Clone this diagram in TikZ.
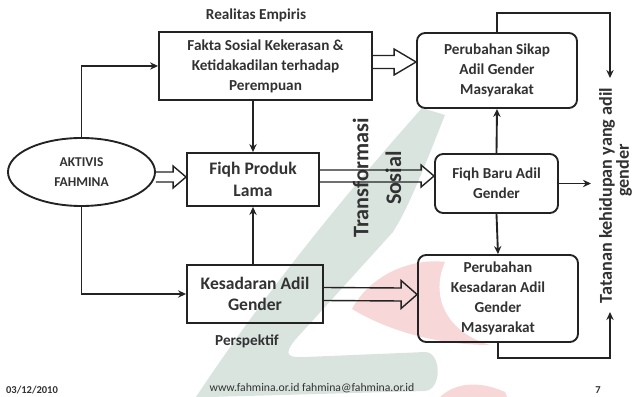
\documentclass[tikz,border=0pt]{standalone}
\usepackage{fontspec}
\setmainfont{Carlito}
\usetikzlibrary{positioning, arrows.meta, calc, shapes.geometric}
\usepackage{xcolor}

\definecolor{garis}{RGB}{35,35,35}
\definecolor{teks}{RGB}{50,50,50}
\definecolor{hijaumuda}{RGB}{217,228,223}
\definecolor{merahmuda}{RGB}{247,215,215}

\begin{document}
\begin{tikzpicture}[
    x=0.03cm, y=-0.03cm,
    line width=1.6pt, color=garis,
    kotak/.style={draw, rectangle, align=center, inner sep=0pt, text=teks, font=\bfseries\fontsize{13}{17}\selectfont},
    kotakbulat/.style={kotak, rounded corners=7pt},
    tulisan/.style={text=teks, font=\bfseries\fontsize{13}{17}\selectfont},
    panah/.style={-{Stealth[length=2.4mm, width=2.2mm]}},
    blok/.style n args={3}{line width=1.2pt, to path={
        ($(\tikztostart)+(0,-#3)$) -- ($(\tikztotarget)+(-#2,-#3)$) -- ($(\tikztotarget)+(-#2,-#1)$)
        -- (\tikztotarget) -- ($(\tikztotarget)+(-#2,#1)$) -- ($(\tikztotarget)+(-#2,#3)$) -- ($(\tikztostart)+(0,#3)$)}}
]
    \useasboundingbox (0,0) rectangle (634,397);

    % Latar
    \fill[hijaumuda] (422,108) -- (445,115) .. controls (425,165) and (410,205) .. (393,232)
        -- (295,340) .. controls (283,355) and (288,358) .. (305,357) -- (425,352)
        .. controls (442,352) and (442,390) .. (425,391) -- (210,397) -- (196,397)
        .. controls (260,300) and (340,200) .. cycle;
    \fill[merahmuda] (352,309) .. controls (372,272) and (415,258) .. (445,262)
        .. controls (432,290) and (440,330) .. (490,345) .. controls (440,345) and (390,332) .. cycle;
    \fill[merahmuda] (440,397) .. controls (455,383) and (478,380) .. (505,392) -- (507,397) -- cycle;

    % Kotak kiri
    \node[draw, ellipse, minimum width=4.41cm, minimum height=2.04cm, inner sep=0pt, align=center,
          text=teks, font=\bfseries\fontsize{11.5}{17}\selectfont] (aktivis) at (81.5,172) {AKTIVIS\\FAHMINA};
    \node[kotak, minimum width=6.39cm, minimum height=2.04cm] (fakta) at (265.5,66)
        {Fakta Sosial Kekerasan \&\\Ketidakadilan terhadap\\Perempuan};
    \node[kotak, minimum width=3.96cm, minimum height=1.59cm, font=\bfseries\fontsize{15}{19}\selectfont]
        (fiqhlama) at (253,179.5) {Fiqh Produk\\Lama};
    \node[kotak, minimum width=4.08cm, minimum height=1.74cm, font=\bfseries\fontsize{15}{18}\selectfont]
        (kesadaran) at (255,294) {Kesadaran Adil\\Gender};

    % Kotak kanan
    \node[kotakbulat, minimum width=4.8cm, minimum height=2.25cm] (sikap) at (497,70.5)
        {Perubahan Sikap\\Adil Gender\\Masyarakat};
    \node[kotakbulat, minimum width=3.69cm, minimum height=1.77cm] (fiqhbaru) at (496.5,183.5)
        {Fiqh Baru Adil\\Gender};
    \node[kotakbulat, minimum width=4.8cm, minimum height=2.61cm] (kesadaranbaru) at (498,298.5)
        {Perubahan\\Kesadaran Adil\\Gender\\Masyarakat};

    % Teks
    \node[tulisan] (realitas) at (256,15) {Realitas Empiris};
    \node[tulisan] (perspektif) at (247,341) {Perspektif};
    \node[text=teks, rotate=90, align=center, font=\bfseries\fontsize{19}{28}\selectfont] (transformasi) at (377,178)
        {Transformasi\\Sosial};
    \node[text=teks, rotate=90, align=center, inner sep=1pt, font=\bfseries\fontsize{15.5}{13.5}\selectfont] (tatanan) at (615.5,195.5)
        {Tatanan kehidupan yang adil\\\hspace*{1.5cm}gender};
    \node[tulisan, font=\bfseries\fontsize{9}{10}\selectfont] (tanggal) at (32,390) {03/12/2010};
    \node[text=teks, font=\fontsize{10}{10}\selectfont] (situs) at (312,388) {www.fahmina.or.id fahmina@fahmina.or.id};
    \node[tulisan, font=\bfseries\fontsize{9}{10}\selectfont] (halaman) at (598,390) {7};

    \coordinate (ujungatas) at (610,78);
    \coordinate (ujungtengah) at (591,183.5);
    \coordinate (ujungbawah) at (610,312);

    % Garis
    \draw[panah] (aktivis.north) |- (fakta.west);
    \draw[panah] (aktivis.south) |- (kesadaran.west);
    \draw[panah] (fiqhlama.north |- fakta.south) -- (fiqhlama.north);
    \draw[panah] (fiqhlama.south |- kesadaran.north) -- (fiqhlama.south);
    \draw[panah] (fiqhbaru.north) -- (sikap.south);
    \draw[panah] (fiqhbaru.south) -- (kesadaranbaru.north);
    \draw[panah] (fiqhbaru.east) -- (ujungtengah);
    \draw[panah] (sikap.north) -- ++(0,-19) -| (ujungatas);
    \draw[panah] (kesadaranbaru.south) -- ++(0,15) -| (ujungbawah);

    % Panah besar
    \draw[blok={11}{13}{5}] ([yshift=-0.15cm]aktivis.east) to ([yshift=0.075cm]fiqhlama.west);
    \draw[blok={13}{22}{6.5}] ([yshift=0.12cm]fakta.east) to ([yshift=0.255cm]sikap.west);
    \draw[blok={11}{13}{6}] ([yshift=0.105cm]fiqhlama.east) to ([yshift=0.225cm]fiqhbaru.west);
    \draw[blok={14}{16}{6.5}] (kesadaran.east) to ([yshift=0.12cm]kesadaranbaru.west);
\end{tikzpicture}
\end{document}
